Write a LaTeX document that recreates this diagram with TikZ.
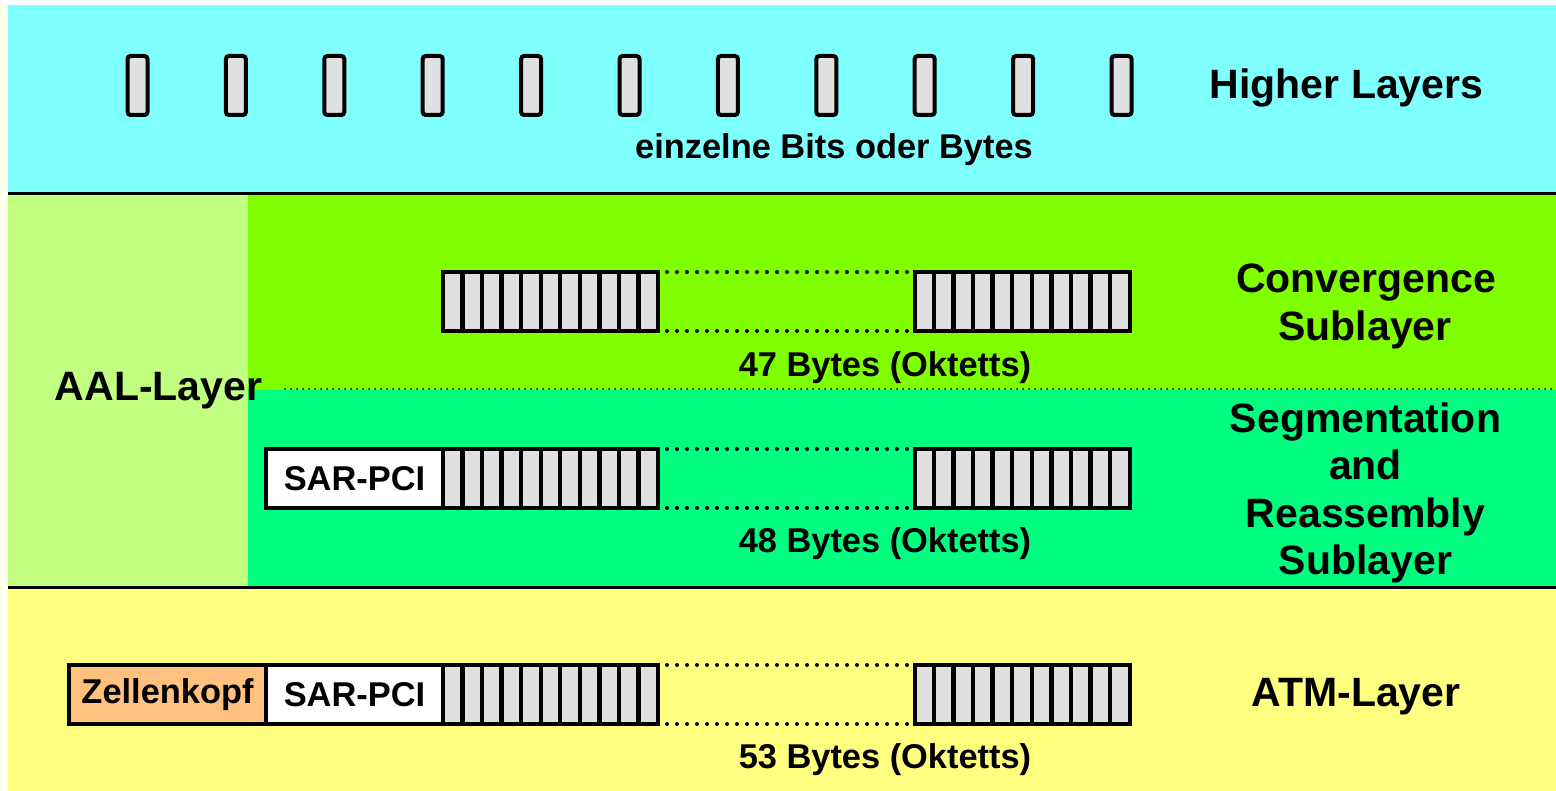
\documentclass[tikz,border=0pt]{standalone}
\usepackage{fontspec}
\setmainfont{Liberation Sans}
\usetikzlibrary{calc}
\definecolor{creambg}{HTML}{FFFFEE}
\definecolor{cyanbg}{HTML}{80FFFF}
\definecolor{aalgreen}{HTML}{C0FF80}
\definecolor{cvgreen}{HTML}{80FF00}
\definecolor{sargreen}{HTML}{00FF80}
\definecolor{atmyellow}{HTML}{FFFF80}
\definecolor{headorange}{HTML}{FFC080}
\definecolor{cellgray}{HTML}{E0E0E0}
\tikzset{
  smalltxt/.style={font=\fontsize{17.2}{20}\selectfont\bfseries},
  bigtxt/.style={font=\fontsize{20.5}{24}\selectfont\bfseries},
  bitbox/.style={draw, line width=2pt, fill=cellgray, rounded corners=1.5pt,
    minimum width=10pt, minimum height=29.5pt, inner sep=0pt, outer sep=0pt},
  byteblock/.style={draw, line width=2pt, fill=cellgray,
    minimum width=107.5pt, minimum height=29.5pt, inner sep=0pt, outer sep=0pt},
  sarbox/.style={draw, line width=2pt, fill=white, smalltxt,
    minimum width=88.5pt, minimum height=29.5pt, inner sep=0pt, outer sep=0pt},
  headbox/.style={draw, line width=2pt, fill=headorange, smalltxt,
    minimum width=98.5pt, minimum height=29.5pt, inner sep=0pt, outer sep=0pt},
  dotline/.style={line width=2pt, line cap=round, dash pattern=on 0pt off 5pt,
    shorten <=4.5pt, shorten >=3pt},
  sepline/.style={line width=1pt, line cap=round, dash pattern=on 0pt off 3pt},
  layerline/.style={line width=1.5pt},
  lbl/.style={anchor=base, inner sep=0pt}
}
\newcommand{\cellsplit}[1]{%
  \foreach \k in {1,...,10}{
    \draw[line width=2.2pt] ($(#1.north west)!\k/11!(#1.north east)$) -- ($(#1.south west)!\k/11!(#1.south east)$);
  }}
\begin{document}
\begin{tikzpicture}[x=0.5pt,y=-0.5pt]
\useasboundingbox (0,0) rectangle (1556,791);
% backgrounds
\fill[creambg] (0,0) rectangle (1556,791);
\fill[white] (0,0) rectangle (1556,5);
\fill[cyanbg] (8,5) rectangle (1556,194);
\fill[aalgreen] (8,194) rectangle (248,587);
\fill[cvgreen] (248,194) rectangle (1556,390);
\fill[sargreen] (248,390) rectangle (1556,587);
\fill[atmyellow] (8,587) rectangle (1556,791);
\draw[layerline] (8,194) -- (1556,194);
\draw[layerline] (8,587) -- (1556,587);
\draw[sepline] (285,389) -- (1556,389);

% higher layers: single bits
\foreach \i in {0,...,10}{
  \node[bitbox] (bit\i) at ({137.5+98.4*\i},85.5) {};
}
\node[lbl, bigtxt] (hl) at (1346.5,99) {Higher Layers};
\node[lbl, smalltxt] (bitslbl) at (834,159) {einzelne Bits oder Bytes};

% convergence sublayer
\node[byteblock] (cvL) at (550.5,301.5) {};
\node[byteblock] (cvR) at (1022,301.5) {};
\cellsplit{cvL}\cellsplit{cvR}
\draw[dotline] (cvL.north east) -- (cvR.north west);
\draw[dotline] (cvL.south east) -- (cvR.south west);
\node[lbl, smalltxt] (cvlbl) at (885,376) {47 Bytes (Oktetts)};
\node[lbl, bigtxt] (cv1) at (1366,292) {Convergence};
\node[lbl, bigtxt] (cv2) at (1365,340) {Sublayer};

% AAL label
\node[lbl, bigtxt] (aal) at (158.5,400) {AAL-Layer};

% SAR sublayer
\node[sarbox] (sarA) at (354.5,478.5) {SAR-PCI};
\node[byteblock] (sarL) at (550.5,478.5) {};
\node[byteblock] (sarR) at (1022,478.5) {};
\cellsplit{sarL}\cellsplit{sarR}
\draw[dotline] (sarL.north east) -- (sarR.north west);
\draw[dotline] (sarL.south east) -- (sarR.south west);
\node[lbl, smalltxt] (sarlbl) at (885,552) {48 Bytes (Oktetts)};
\node[lbl, bigtxt] (sg1) at (1365.5,432) {Segmentation};
\node[lbl, bigtxt] (sg2) at (1365.5,479) {and};
\node[lbl, bigtxt] (sg3) at (1365.5,527) {Reassembly};
\node[lbl, bigtxt] (sg4) at (1365.5,574) {Sublayer};

% ATM layer
\node[headbox] (zk) at (167.5,694.5) {Zellenkopf};
\node[sarbox] (sarB) at (354.5,694.5) {SAR-PCI};
\node[byteblock] (atmL) at (550.5,694.5) {};
\node[byteblock] (atmR) at (1022,694.5) {};
\cellsplit{atmL}\cellsplit{atmR}
\draw[dotline] (atmL.north east) -- (atmR.north west);
\draw[dotline] (atmL.south east) -- (atmR.south west);
\node[lbl, smalltxt] (atmlbl) at (885,768) {53 Bytes (Oktetts)};
\node[lbl, bigtxt] (atm) at (1356,706) {ATM-Layer};
\end{tikzpicture}
\end{document}
